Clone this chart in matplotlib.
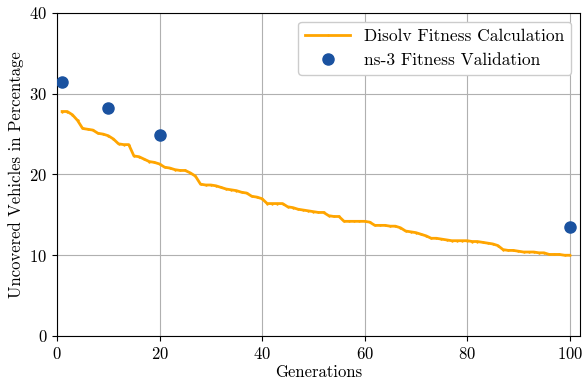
import matplotlib
matplotlib.use("Agg")
import matplotlib.pyplot as plt

plt.rcParams["font.family"] = "serif"
plt.rcParams["font.serif"] = ["cmr10"]
plt.rcParams["mathtext.fontset"] = "cm"
plt.rcParams["axes.formatter.use_mathtext"] = True

# Disolv fitness per generation
generations = list(range(1, 101))
disolv_fitness = [
    27.8, 27.8, 27.4, 26.7, 25.7, 25.6, 25.5, 25.1, 25.0, 24.8,
    24.4, 23.8, 23.7, 23.7, 22.3, 22.2, 21.9, 21.6, 21.5, 21.3,
    20.9, 20.8, 20.6, 20.5, 20.5, 20.2, 19.8, 18.8, 18.7, 18.7,
    18.6, 18.4, 18.2, 18.1, 18.0, 17.8, 17.7, 17.3, 17.2, 17.0,
    16.4, 16.4, 16.4, 16.4, 16.0, 15.9, 15.7, 15.6, 15.5, 15.4,
    15.3, 15.3, 14.9, 14.8, 14.8, 14.2, 14.2, 14.2, 14.2, 14.2,
    14.1, 13.7, 13.7, 13.7, 13.6, 13.6, 13.4, 13.0, 12.9, 12.8,
    12.6, 12.4, 12.1, 12.1, 12.0, 11.9, 11.8, 11.8, 11.8, 11.8,
    11.7, 11.7, 11.6, 11.5, 11.4, 11.2, 10.7, 10.6, 10.6, 10.5,
    10.4, 10.4, 10.4, 10.3, 10.3, 10.1, 10.1, 10.1, 10.0, 10.0,
]

# ns-3 validation runs
ns3_generations = [1, 10, 20, 100]
ns3_fitness = [31.4, 28.2, 24.9, 13.5]

fig = plt.figure(figsize=(5.84, 3.8), dpi=100)
ax = fig.add_axes([0.0976, 0.1158, 0.8954, 0.85])

ax.plot(generations, disolv_fitness, color="#FFA500", linewidth=2,
        marker="+", markersize=2, label="Disolv Fitness Calculation", zorder=3)
ax.plot(ns3_generations, ns3_fitness, linestyle="none", marker="o",
        markersize=8, color="#1A52A0", label="ns-3 Fitness Validation", zorder=4)

ax.set_xlim(0, 102)
ax.set_ylim(0, 40)
ax.set_xticks([0, 20, 40, 60, 80, 100])
ax.set_yticks([0, 10, 20, 30, 40])
ax.tick_params(labelsize=12)
ax.grid(True, color="#b0b0b0", linewidth=0.8)
ax.set_axisbelow(True)
ax.set_xlabel("Generations", fontsize=12, labelpad=2)
ax.set_ylabel("Uncovered Vehicles in Percentage", fontsize=12)
ax.legend(loc="upper right", fontsize=12.5, framealpha=1.0,
          handlelength=2.6)

fig.savefig("out.png", dpi=100)
